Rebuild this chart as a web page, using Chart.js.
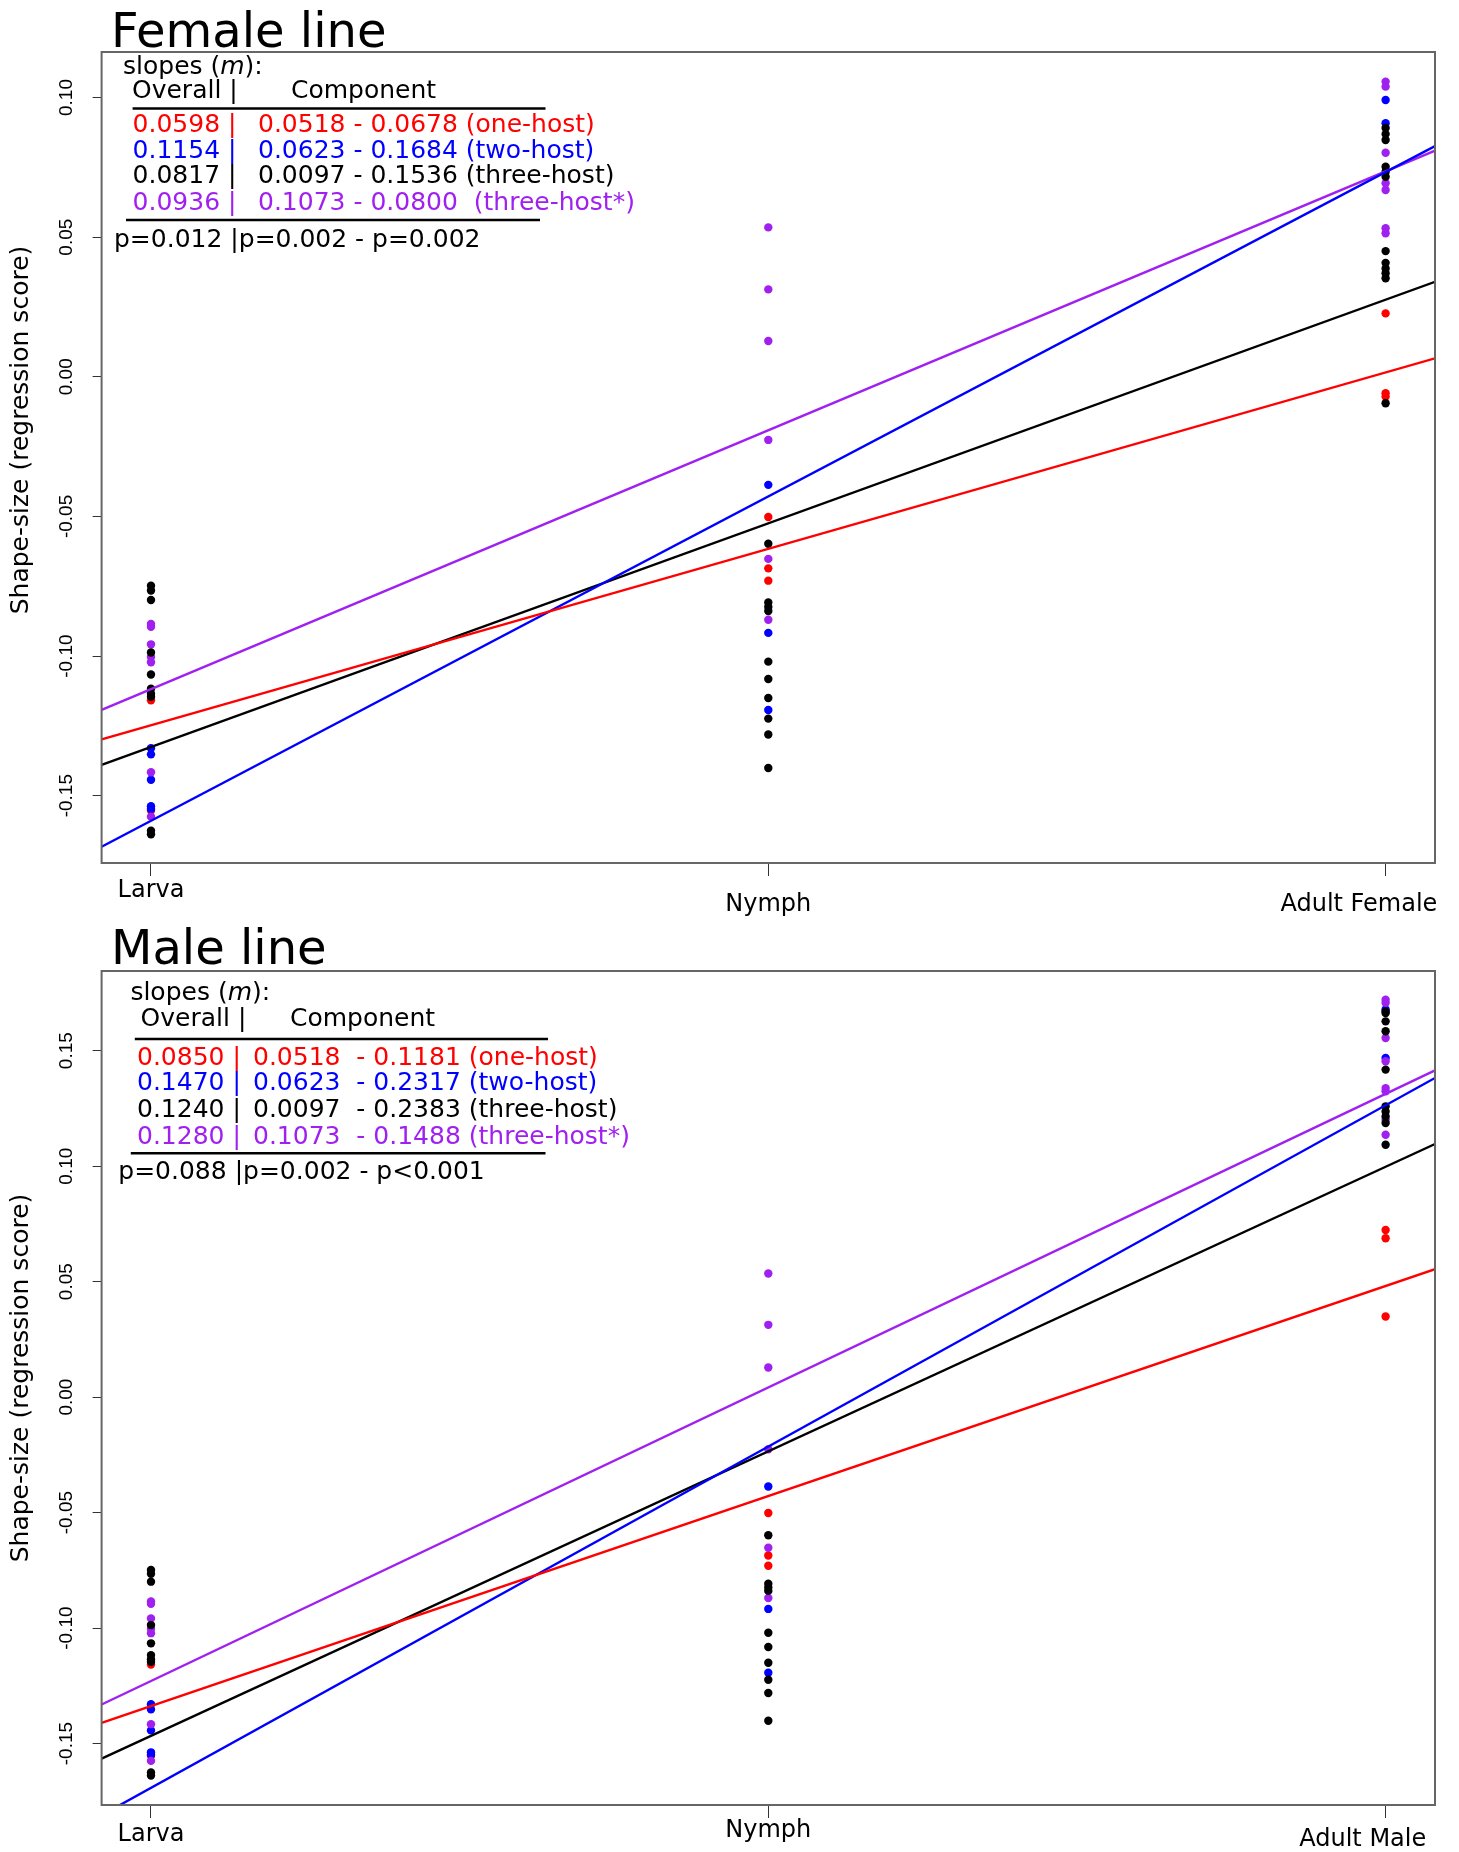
<!DOCTYPE html>
<html>
<head>
<meta charset="utf-8">
<script src="https://cdn.jsdelivr.net/npm/chart.js@4.4.1/dist/chart.umd.min.js"></script>
<style>
  html, body { margin: 0; padding: 0; background: #fff; }
  .panel { position: absolute; left: 0; width: 1459px; height: 926px; }
  #femaleWrap { top: 0; }
  #maleWrap { top: 926px; }
</style>
</head>
<body>
<div class="panel" id="femaleWrap"><canvas id="femaleChart" width="1459" height="926"></canvas></div>
<div class="panel" id="maleWrap"><canvas id="maleChart" width="1459" height="926"></canvas></div>
<script>
/*** Data ***/
const stages = [1, 2, 3];
const xLimits = [0.92, 3.08];
const femaleStageLabels = ['Larva', 'Nymph', 'Adult Female'];
const maleStageLabels = ['Larva', 'Nymph', 'Adult Male'];
const groups = ['one-host', 'two-host', 'three-host', 'three-host*'];
const groupColors = ['#ff0000', '#0000ff', '#000000', '#a020f0'];

const femaleYTicks = [-0.15, -0.10, -0.05, 0.00, 0.05, 0.10];
const maleYTicks = [-0.15, -0.10, -0.05, 0.00, 0.05, 0.10, 0.15];
const femaleYRange = [-0.1741, 0.1163];
const maleYRange = [-0.1766, 0.1845];

// larva and nymph scores are shared by both panels
const larvaOneHost = [-0.1158, -0.1553];
const larvaTwoHost = [-0.1330, -0.1352, -0.1443, -0.1538, -0.1548];
const larvaThreeHost = [-0.0748, -0.0765, -0.0799, -0.0987, -0.1066, -0.1117, -0.1135, -0.1146, -0.1625, -0.1638];
const larvaThreeHostStar = [-0.0885, -0.0895, -0.0958, -0.1003, -0.1022, -0.1416, -0.1575];

const nymphOneHost = [-0.0502, -0.0686, -0.0730];
const nymphTwoHost = [-0.0387, -0.0917, -0.1193];
const nymphThreeHost = [-0.0598, -0.0808, -0.0824, -0.0839, -0.1020, -0.1082, -0.1150, -0.1224, -0.1281, -0.1401];
const nymphThreeHostStar = [0.0535, 0.0313, 0.0128, -0.0226, -0.0652, -0.0870];

const adultFemaleOneHost = [0.0227, -0.0059, -0.0071];
const adultFemaleTwoHost = [0.0991, 0.0908];
const adultFemaleThreeHost = [0.0891, 0.0869, 0.0848, 0.0752, 0.0734, 0.0716, 0.0450, 0.0408, 0.0388, 0.0371, 0.0353, -0.0095];
const adultFemaleThreeHostStar = [0.1057, 0.1039, 0.0802, 0.0693, 0.0669, 0.0532, 0.0514];

const adultMaleOneHost = [0.0724, 0.0688, 0.0349];
const adultMaleTwoHost = [0.1678, 0.1468];
const adultMaleThreeHost = [0.1670, 0.1663, 0.1627, 0.1584, 0.1418, 0.1259, 0.1237, 0.1215, 0.1187, 0.1093];
const adultMaleThreeHostStar = [0.1721, 0.1707, 0.1555, 0.1454, 0.1338, 0.1324, 0.1201, 0.1136];

// fitted lines, value at the left (x=0.92) and right (x=3.08) edge of the plot
const femaleFitStart = [-0.1298, -0.1683, -0.1390, -0.1193];
const femaleFitEnd = [0.0066, 0.0826, 0.0340, 0.0810];
const maleFitStart = [-0.1410, -0.1810, -0.1565, -0.1331];
const maleFitEnd = [0.0554, 0.1382, 0.1096, 0.1415];

// slope tables
const femaleOverall = ['0.0598', '0.1154', '0.0817', '0.0936'];
const femaleComponent = ['0.0518 - 0.0678 (one-host)', '0.0623 - 0.1684 (two-host)', '0.0097 - 0.1536 (three-host)', '0.1073 - 0.0800  (three-host*)'];
const femaleP = 'p=0.012 |p=0.002 - p=0.002';
const maleOverall = ['0.0850', '0.1470', '0.1240', '0.1280'];
const maleComponent = ['0.0518  - 0.1181 (one-host)', '0.0623  - 0.2317 (two-host)', '0.0097  - 0.2383 (three-host)', '0.1073  - 0.1488 (three-host*)'];
const maleP = 'p=0.088 |p=0.002 - p<0.001';

/*** Styles ***/
const FONT = '"DejaVu Sans", Verdana, sans-serif';
const AXIS_FONT = '"Liberation Sans", Arial, sans-serif';
const pointOrder = [4, 3, 1, 2];

function stagePoints(stageValues) {
    const pts = [];
    stageValues.forEach((vals, i) => vals.forEach(v => pts.push({ x: stages[i], y: v })));
    return pts;
}

function buildDatasets(adult, fitStart, fitEnd) {
    const larva = [larvaOneHost, larvaTwoHost, larvaThreeHost, larvaThreeHostStar];
    const nymph = [nymphOneHost, nymphTwoHost, nymphThreeHost, nymphThreeHostStar];
    const lines = groups.map((g, i) => ({
        label: g + ' fit',
        data: [{ x: xLimits[0], y: fitStart[i] }, { x: xLimits[1], y: fitEnd[i] }],
        showLine: true,
        borderColor: groupColors[i],
        borderWidth: 2.4,
        pointRadius: 0,
        tension: 0,
        order: 0
    }));
    const points = groups.map((g, i) => ({
        label: g,
        data: stagePoints([larva[i], nymph[i], adult[i]]),
        backgroundColor: groupColors[i],
        borderWidth: 0,
        pointRadius: 4.2,
        order: pointOrder[i]
    }));
    return lines.concat(points);
}

/**
 * Draws the frame, titles and the slope table of one panel
 */
function makePanelPlugin(cfg) {
    return {
        id: 'panelText',
        afterDraw(chart) {
            const ctx = chart.ctx;
            const a = chart.chartArea;
            ctx.save();
            ctx.strokeStyle = '#666';
            ctx.lineWidth = 2;
            ctx.strokeRect(a.left, a.top, a.right - a.left, a.bottom - a.top);

            ctx.fillStyle = '#000';
            ctx.textAlign = 'left';
            ctx.textBaseline = 'alphabetic';
            ctx.font = '48px ' + FONT;
            ctx.fillText(cfg.title, cfg.titleX, cfg.titleY);

            ctx.save();
            ctx.translate(cfg.yTitleX, cfg.yTitleY);
            ctx.rotate(-Math.PI / 2);
            ctx.textAlign = 'center';
            ctx.textBaseline = 'middle';
            ctx.font = '25px ' + FONT;
            ctx.fillText('Shape-size (regression score)', 0, 0);
            ctx.restore();

            const normal = '25px ' + FONT;
            ctx.textBaseline = 'middle';
            ctx.font = normal;
            let x = cfg.slopesX;
            ctx.fillText('slopes (', x, cfg.slopesY);
            x += ctx.measureText('slopes (').width;
            ctx.font = 'italic 25px ' + FONT;
            ctx.fillText('m', x, cfg.slopesY);
            x += ctx.measureText('m').width;
            ctx.font = normal;
            ctx.fillText('):', x, cfg.slopesY);

            ctx.fillText('Overall |', cfg.headX, cfg.headY);
            ctx.fillText('Component', cfg.compHeadX, cfg.headY);

            ctx.lineWidth = 2.5;
            ctx.strokeStyle = '#000';
            [cfg.ruleTop, cfg.ruleBottom].forEach(r => {
                ctx.beginPath();
                ctx.moveTo(r[0], r[2]);
                ctx.lineTo(r[1], r[2]);
                ctx.stroke();
            });

            cfg.overall.forEach((ov, i) => {
                ctx.fillStyle = groupColors[i];
                ctx.fillText(ov + ' |', cfg.rowX, cfg.rowY[i]);
                ctx.fillText(cfg.component[i], cfg.compX, cfg.rowY[i]);
            });

            ctx.fillStyle = '#000';
            ctx.fillText(cfg.pText, cfg.pX, cfg.pY);
            ctx.restore();
        }
    };
}

function renderPanel(canvasId, opts) {
    const ctx = document.getElementById(canvasId).getContext('2d');
    return new Chart(ctx, {
        type: 'scatter',
        data: { datasets: opts.datasets },
        options: {
            responsive: false,
            animation: false,
            devicePixelRatio: 1,
            layout: { padding: { top: opts.top, right: 24, left: 0, bottom: 0 } },
            plugins: { legend: { display: false }, tooltip: { enabled: false }, title: { display: false } },
            scales: {
                x: {
                    type: 'linear',
                    min: xLimits[0],
                    max: xLimits[1],
                    afterBuildTicks: s => { s.ticks = stages.map(v => ({ value: v })); },
                    afterFit: s => { s.height = opts.xHeight; s.paddingLeft = 0; s.paddingRight = 0; },
                    border: { display: false },
                    grid: { drawOnChartArea: false, drawTicks: true, tickLength: 13, tickColor: '#333', tickWidth: 1 },
                    ticks: {
                        autoSkip: false,
                        maxRotation: 0,
                        padding: 0,
                        color: '#000',
                        font: c => ({ family: FONT, size: 24, lineHeight: opts.labelLift[c.index] }),
                        callback: v => opts.stageLabels[Math.round(v) - 1] + opts.labelPad[Math.round(v) - 1]
                    }
                },
                y: {
                    type: 'linear',
                    min: opts.yRange[0],
                    max: opts.yRange[1],
                    afterBuildTicks: s => { s.ticks = opts.yTicks.map(v => ({ value: v })); },
                    afterFit: s => { s.width = 101.6; s.paddingTop = 0; s.paddingBottom = 0; },
                    border: { display: false },
                    grid: { drawOnChartArea: false, drawTicks: true, tickLength: 9, tickColor: '#333', tickWidth: 1 },
                    ticks: {
                        autoSkip: false,
                        minRotation: 90,
                        maxRotation: 90,
                        crossAlign: 'center',
                        padding: 4,
                        color: '#000',
                        font: { family: AXIS_FONT, size: 19 },
                        callback: v => v.toFixed(2)
                    }
                }
            }
        },
        plugins: [makePanelPlugin(opts.text)]
    });
}

const nb = '\u00a0';

renderPanel('femaleChart', {
    datasets: buildDatasets(
        [adultFemaleOneHost, adultFemaleTwoHost, adultFemaleThreeHost, adultFemaleThreeHostStar],
        femaleFitStart, femaleFitEnd),
    top: 52,
    xHeight: 63,
    yRange: femaleYRange,
    yTicks: femaleYTicks,
    stageLabels: femaleStageLabels,
    labelLift: [1.25, 2.375, 2.375],
    labelPad: ['', '', nb.repeat(7)],
    text: {
        title: 'Female line', titleX: 111, titleY: 47,
        yTitleX: 21, yTitleY: 430,
        slopesX: 123, slopesY: 67,
        headX: 132, compHeadX: 291, headY: 91,
        ruleTop: [132.6, 545.5, 108.5], ruleBottom: [126, 540, 220],
        rowX: 132.6, compX: 258, rowY: [125, 151, 176.5, 203],
        pX: 114, pY: 240,
        overall: femaleOverall, component: femaleComponent, pText: femaleP
    }
});

renderPanel('maleChart', {
    datasets: buildDatasets(
        [adultMaleOneHost, adultMaleTwoHost, adultMaleThreeHost, adultMaleThreeHostStar],
        maleFitStart, maleFitEnd),
    top: 45,
    xHeight: 47,
    yRange: maleYRange,
    yTicks: maleYTicks,
    stageLabels: maleStageLabels,
    labelLift: [1.383, 1.083, 1.783],
    labelPad: ['', '', nb.repeat(6)],
    text: {
        title: 'Male line', titleX: 111, titleY: 38,
        yTitleX: 21, yTitleY: 452,
        slopesX: 130.4, slopesY: 67,
        headX: 140.6, compHeadX: 290, headY: 93,
        ruleTop: [134.8, 548, 113], ruleBottom: [130.8, 545.5, 227.3],
        rowX: 137, compX: 253, rowY: [132.5, 157.5, 184.5, 211],
        pX: 118.3, pY: 246.7,
        overall: maleOverall, component: maleComponent, pText: maleP
    }
});
</script>
</body>
</html>
